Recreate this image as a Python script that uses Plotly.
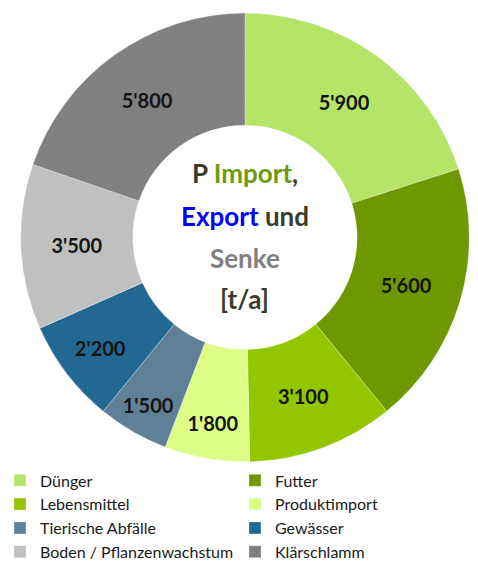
import plotly.graph_objects as go

categories = ["Dünger", "Futter", "Lebensmittel", "Produktimport",
              "Tierische Abfälle", "Gewässer", "Boden / Pflanzenwachstum", "Klärschlamm"]
values = [5900, 5600, 3100, 1800, 1500, 2200, 3500, 5800]
colors = ["#b4e468", "#6f9700", "#94c600", "#ddfc86",
          "#5f8096", "#226893", "#c0c0c0", "#808080"]

labels_txt = [f"{v:,}".replace(",", "'") for v in values]

fig = go.Figure(go.Pie(
    labels=categories, values=values, text=labels_txt,
    textinfo="text", texttemplate="<b>%{text}</b>",
    textposition="inside", insidetextorientation="horizontal",
    textfont=dict(family="Lato", size=20, color="#151515"),
    hole=0.5, sort=False, direction="clockwise", rotation=0,
    marker=dict(colors=colors, line=dict(color="rgba(255,255,255,0.5)", width=0.6)),
    domain=dict(x=[0.042, 0.983], y=[0.19, 0.977]),
    hoverinfo="label+value",
))

DARK = "#3b3b2c"
cx = 0.5125
center_lines = [
    (f"<span style='color:{DARK}'>P </span><span style='color:#6e9a12'>Import</span><span style='color:{DARK}'>,</span>", 173),
    (f"<span style='color:#0000ff'>Export</span><span style='color:{DARK}'> und</span>", 216),
    ("<span style='color:#808080'>Senke</span>", 258),
    (f"<span style='color:{DARK}'>[t/a]</span>", 299),
]
for txt, ypx in center_lines:
    fig.add_annotation(text=f"<b>{txt}</b>", x=cx, y=1 - ypx / 570, xref="paper", yref="paper",
                       xanchor="center", yanchor="middle",
                       showarrow=False, font=dict(family="Lato", size=26))

fig.update_layout(
    width=478, height=570, margin=dict(l=0, r=0, t=0, b=0, autoexpand=False),
    paper_bgcolor="white", plot_bgcolor="white",
    showlegend=True,
    legend=dict(orientation="h", x=0.0, y=0.187, xanchor="left", yanchor="top",
                entrywidthmode="pixels", entrywidth=190,
                font=dict(family="Lato", size=16, color="#1a1a1a"),
                tracegroupgap=0, traceorder="normal"),
)

fig.write_html("out.html")
